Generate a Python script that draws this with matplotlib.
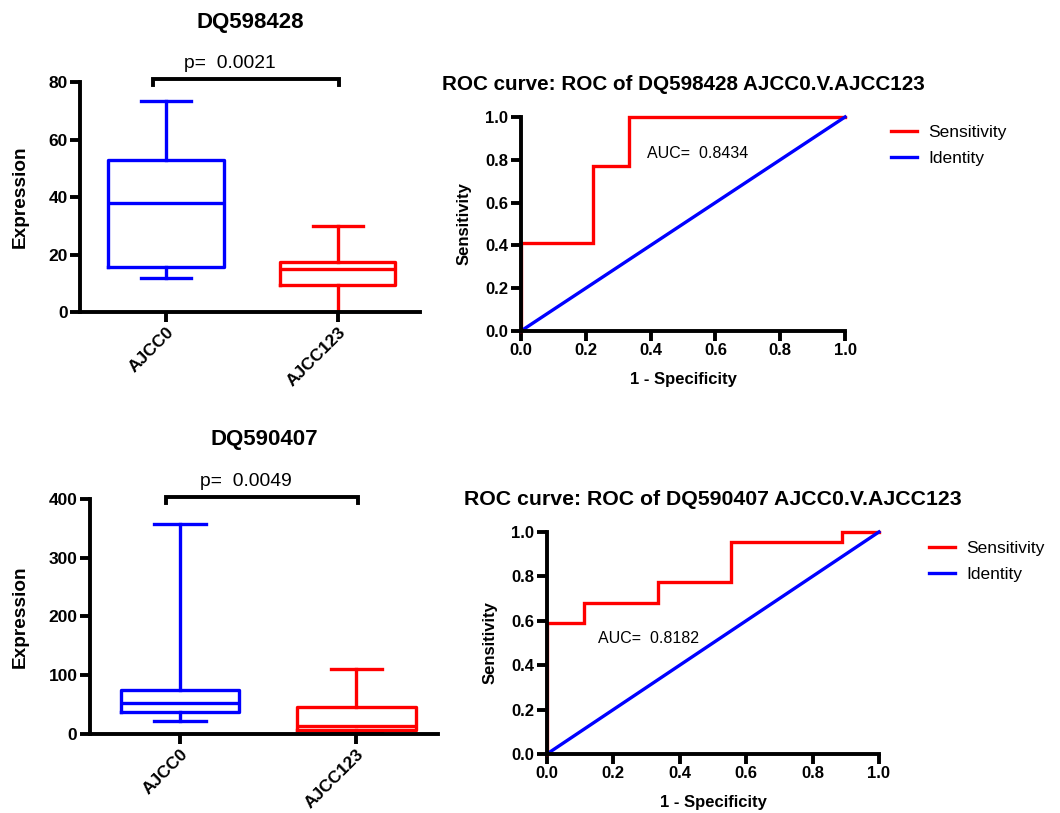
import matplotlib
matplotlib.use('Agg')
import matplotlib.pyplot as plt

plt.rcParams['font.family'] = ['Liberation Sans', 'DejaVu Sans']

groups = ['AJCC0', 'AJCC123']
box_colors = ['#0000ff', '#ff0000']

# box summaries: min, Q1, median, Q3, max
dq598428_box = [[12, 15.5, 38, 53, 73.5], [0, 9.5, 15, 17.5, 30]]
dq590407_box = [[22, 37, 52, 74, 358], [1, 6, 14, 46, 110]]
p_values = ['0.0021', '0.0049']

# ROC step coordinates
roc1_fpr = [0, 0, 2/9, 2/9, 3/9, 3/9, 1]
roc1_tpr = [0, 9/22, 9/22, 17/22, 17/22, 1, 1]
roc2_fpr = [0, 0, 1/9, 1/9, 3/9, 3/9, 5/9, 5/9, 8/9, 8/9, 1]
roc2_tpr = [0, 13/22, 13/22, 15/22, 15/22, 17/22, 17/22, 21/22, 21/22, 1, 1]
auc_values = ['0.8434', '0.8182']

LW = 2.4
SPINE = 2.8


def style_axes(ax, size):
    for s in ['top', 'right']:
        ax.spines[s].set_visible(False)
    for s in ['left', 'bottom']:
        ax.spines[s].set_linewidth(SPINE)
    ax.tick_params(width=SPINE, length=7, direction='out', pad=2)
    for lbl in ax.get_xticklabels() + ax.get_yticklabels():
        lbl.set_fontweight('bold')
        lbl.set_fontsize(size)


def box_panel(ax, title, stats, ymax, yticks, pval, bracket_y, bracket_drop, xlim):
    for i, ((lo, q1, med, q3, hi), c) in enumerate(zip(stats, box_colors)):
        st = dict(label=groups[i], whislo=lo, q1=q1, med=med, q3=q3, whishi=hi, fliers=[])
        ax.bxp([st], positions=[i], widths=0.67, showfliers=False,
               boxprops=dict(color=c, linewidth=LW),
               medianprops=dict(color=c, linewidth=LW),
               whiskerprops=dict(color=c, linewidth=LW),
               capprops=dict(color=c, linewidth=LW),
               capwidths=0.29, manage_ticks=False)
    ax.set_xticks([0, 1])
    ax.set_xticklabels(groups)
    ax.set_xlim(*xlim)
    ax.set_ylim(0, ymax)
    ax.set_yticks(yticks)
    style_axes(ax, 12.5)
    for lbl in ax.get_xticklabels():
        lbl.set_rotation(45)
        lbl.set_ha('right')
        lbl.set_rotation_mode('anchor')
    ax.set_ylabel('Expression', fontsize=13.7, fontweight='bold', labelpad=14)
    ax.set_title(title, fontsize=16, fontweight='bold', pad=39)
    ax.plot([-0.077, -0.077, 1.006, 1.006],
            [bracket_y - bracket_drop, bracket_y, bracket_y, bracket_y - bracket_drop],
            color='black', linewidth=SPINE, clip_on=False, solid_joinstyle='miter')
    ax.annotate('p=  ' + pval, (0.372, bracket_y), xytext=(0, 5), textcoords='offset points',
                ha='center', va='bottom', fontsize=13.9, annotation_clip=False)


def roc_panel(ax, title, fpr, tpr, auc, auc_xy, title_size, legend_anchor):
    ax.plot(fpr, tpr, color='#ff0000', linewidth=LW, label='Sensitivity', clip_on=False,
            solid_joinstyle='miter')
    ax.plot([0, 1], [0, 1], color='#0000ff', linewidth=LW, label='Identity', clip_on=False)
    ax.set_xlim(0, 1)
    ax.set_ylim(0, 1)
    ticks = [0, 0.2, 0.4, 0.6, 0.8, 1.0]
    ax.set_xticks(ticks)
    ax.set_yticks(ticks)
    ax.set_xticklabels([f'{t:.1f}' for t in ticks])
    ax.set_yticklabels([f'{t:.1f}' for t in ticks])
    style_axes(ax, 12)
    ax.set_xlabel('1 - Specificity', fontsize=12, fontweight='bold', labelpad=9.5)
    ax.set_ylabel('Sensitivity', fontsize=12, fontweight='bold', labelpad=10)
    ax.set_title(title, fontsize=title_size, fontweight='bold', pad=19.5)
    ax.text(auc_xy[0], auc_xy[1], 'AUC=  ' + auc, fontsize=11.5, ha='left', va='center')
    ax.legend(loc='upper left', bbox_to_anchor=legend_anchor, frameon=False, fontsize=12.5,
              handlelength=1.5, handletextpad=0.63, labelspacing=0.6)


fig = plt.figure(figsize=(10.6, 8.13), dpi=100)

ax1 = fig.add_axes([0.0755, 0.6162, 0.321, 0.2829])
box_panel(ax1, 'DQ598428', dq598428_box, 80, [0, 20, 40, 60, 80], p_values[0], 81.0, 2.1,
          (-0.5, 1.48))

ax2 = fig.add_axes([0.4915, 0.5929, 0.3057, 0.2632])
roc_panel(ax2, 'ROC curve: ROC of DQ598428 AJCC0.V.AJCC123', roc1_fpr, roc1_tpr, auc_values[0],
          (0.39, 0.83), 14.9, (1.095, 1.035))

ax3 = fig.add_axes([0.0849, 0.0972, 0.328, 0.2891])
box_panel(ax3, 'DQ590407', dq590407_box, 400, [0, 100, 200, 300, 400], p_values[1], 403.4, 10,
          (-0.51, 1.46))

ax4 = fig.add_axes([0.516, 0.0726, 0.3132, 0.2731])
roc_panel(ax4, 'ROC curve: ROC of DQ590407 AJCC0.V.AJCC123', roc2_fpr, roc2_tpr, auc_values[1],
          (0.155, 0.52), 15.3, (1.105, 1.03))

fig.savefig('out.png', dpi=100)
